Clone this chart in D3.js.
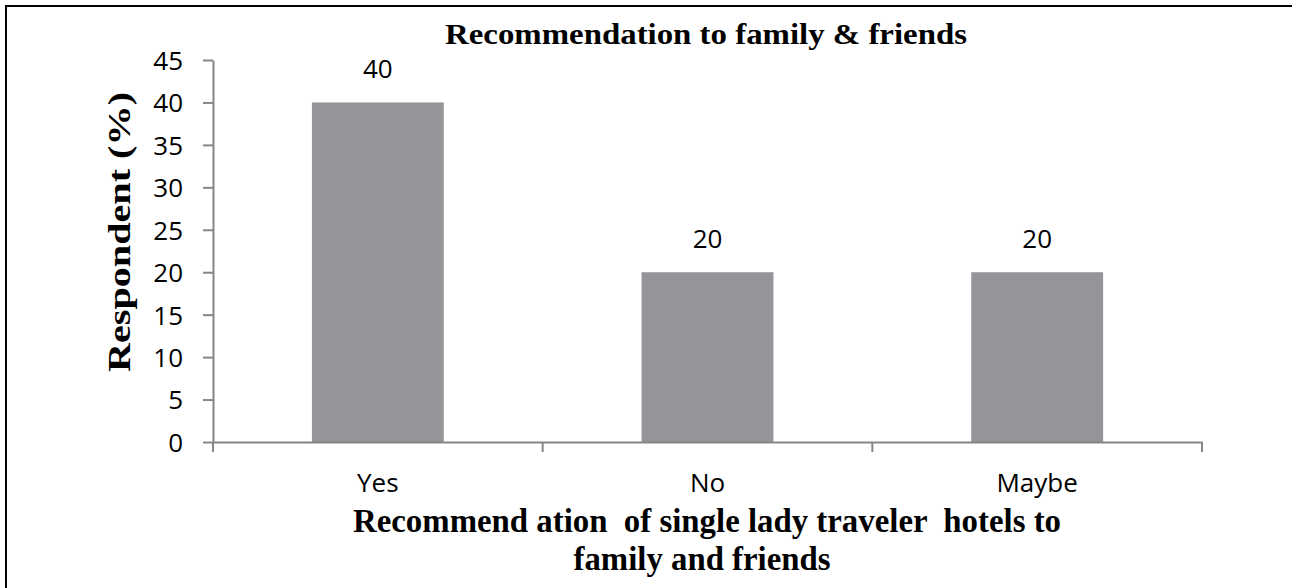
<!DOCTYPE html>
<html>
<head>
<meta charset="utf-8">
<style>
  body { margin: 0; background: #fff; }
  .tick text, .lbl { font-family: "Open Sans", sans-serif; font-size: 26px; fill: #000; }
  .ttl { font-family: "Liberation Serif", "Times New Roman", serif; font-weight: bold; fill: #000; white-space: pre; }
</style>
</head>
<body>
<div id="chart"></div>
<script src="https://cdn.jsdelivr.net/npm/d3@7"></script>
<script>

// data
var categories = ["Yes", "No", "Maybe"];
var respondents = [40, 20, 20];
var yTicks = [0, 5, 10, 15, 20, 25, 30, 35, 40, 45];
var chartTitle = "Recommendation to family & friends";
var yTitle = "Respondent (%)";
var xTitle = ["Recommend ation  of single lady traveler  hotels to", "family and friends"];

var W = 1292, H = 588;
var axisCol = "#868686", barCol = "#939598";

var svg = d3.select("#chart").append("svg")
    .attr("width", W)
    .attr("height", H);

// outer frame (only top/left edges fall inside the picture)
svg.append("rect")
    .attr("x", 6).attr("y", 6)
    .attr("width", W + 20).attr("height", H + 20)
    .attr("fill", "none")
    .attr("stroke", "#000")
    .attr("stroke-width", 2);

var x = d3.scaleBand()
    .domain(categories)
    .range([213, 1202])
    .paddingInner(0.6)
    .paddingOuter(0.3);

var y = d3.scaleLinear()
    .domain([0, 45])
    .range([442, 60]);

// bars
svg.selectAll(".bar")
    .data(categories)
  .enter().append("rect")
    .attr("class", "bar")
    .attr("x", function(d) { return x(d); })
    .attr("y", function(d, i) { return y(respondents[i]); })
    .attr("width", x.bandwidth())
    .attr("height", function(d, i) { return y(0) - y(respondents[i]); })
    .attr("fill", barCol);

// y axis
var yAxis = svg.append("g")
    .attr("transform", "translate(213,0)")
    .call(d3.axisLeft(y).tickValues(yTicks).tickSizeInner(10).tickSizeOuter(0).tickPadding(20));
yAxis.select(".domain").attr("stroke", axisCol).attr("stroke-width", 2);
yAxis.selectAll(".tick line").attr("stroke", axisCol).attr("stroke-width", 2);
yAxis.selectAll(".tick text").attr("font-family", null).attr("font-size", null).attr("dy", "0.36em");

// x axis: line + labels, ticks between categories
var xAxis = svg.append("g")
    .attr("transform", "translate(0,442)")
    .call(d3.axisBottom(x).tickSize(0).tickPadding(34));
xAxis.select(".domain").attr("stroke", axisCol).attr("stroke-width", 2);
xAxis.selectAll(".tick text").attr("font-family", null).attr("font-size", null).attr("dy", "0.6em");

var bounds = d3.range(categories.length + 1).map(function(i) { return x.range()[0] + i * x.step(); });
xAxis.selectAll(".bound")
    .data(bounds)
  .enter().append("line")
    .attr("class", "bound")
    .attr("x1", function(d) { return d; })
    .attr("x2", function(d) { return d; })
    .attr("y1", 0).attr("y2", 10)
    .attr("stroke", axisCol)
    .attr("stroke-width", 2);

// value labels
svg.selectAll(".lbl")
    .data(categories)
  .enter().append("text")
    .attr("class", "lbl")
    .attr("text-anchor", "middle")
    .attr("x", function(d) { return x(d) + x.bandwidth() / 2; })
    .attr("y", function(d, i) { return y(respondents[i]) - 24; })
    .text(function(d, i) { return respondents[i]; });

// titles
svg.append("text")
    .attr("class", "ttl")
    .attr("x", 706).attr("y", 44)
    .attr("text-anchor", "middle")
    .attr("font-size", 29)
    .attr("textLength", 522)
    .attr("lengthAdjust", "spacingAndGlyphs")
    .text(chartTitle);

svg.append("text")
    .attr("class", "ttl")
    .attr("transform", "translate(130,232) rotate(-90)")
    .attr("text-anchor", "middle")
    .attr("font-size", 32)
    .attr("textLength", 280)
    .attr("lengthAdjust", "spacingAndGlyphs")
    .text(yTitle);

svg.append("text")
    .attr("class", "ttl")
    .attr("x", 707).attr("y", 532)
    .attr("text-anchor", "middle")
    .attr("font-size", 33)
    .attr("textLength", 708)
    .attr("lengthAdjust", "spacingAndGlyphs")
    .text(xTitle[0]);

svg.append("text")
    .attr("class", "ttl")
    .attr("x", 702).attr("y", 570)
    .attr("text-anchor", "middle")
    .attr("font-size", 33)
    .attr("textLength", 257)
    .attr("lengthAdjust", "spacingAndGlyphs")
    .text(xTitle[1]);

</script>
</body>
</html>
